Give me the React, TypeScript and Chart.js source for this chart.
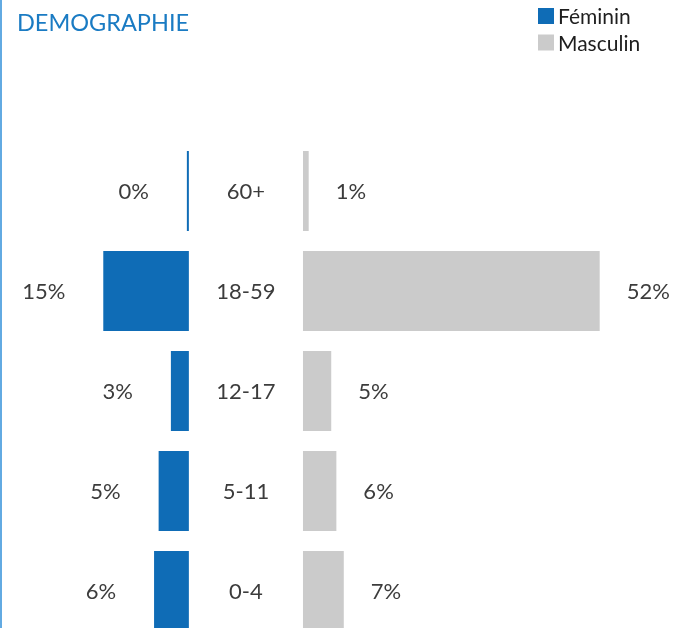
import React, { useEffect, useRef } from "react";
import { Chart, registerables } from "chart.js";

Chart.register(...registerables);

// ---- data ----
const AGE_GROUPS = ["60+", "18-59", "12-17", "5-11", "0-4"];
const FEMALE = [0.35, 15, 3.15, 5.3, 6.1];
const MALE = [1, 52, 4.95, 5.85, 7.15];
const SERIES = ["Féminin", "Masculin"];
const TITLE = "DEMOGRAPHIE";

// ---- style ----
const COLORS = ["#0F6CB6", "#CBCBCB"];
const HALF_GAP = 10; // units of % left empty on each side of the centre for age labels
const FONT = "Lato, 'Noto Sans', sans-serif";

const overlayPlugin = {
  id: "overlay",
  afterDatasetsDraw(chart: any) {
    const { ctx, scales } = chart;
    const x = scales.x;
    const y = scales.y;
    ctx.save();
    ctx.font = `22px ${FONT}`;
    ctx.fillStyle = "#3C3C3C";
    ctx.textBaseline = "middle";
    AGE_GROUPS.forEach((g, i) => {
      const cy = y.getPixelForValue(i) + 1;
      ctx.textAlign = "center";
      ctx.fillText(g, x.getPixelForValue(0), cy);
      ctx.textAlign = "right";
      ctx.fillText(
        Math.round(FEMALE[i]) + "%",
        x.getPixelForValue(-HALF_GAP - FEMALE[i]) - 38,
        cy
      );
      ctx.textAlign = "left";
      ctx.fillText(
        Math.round(MALE[i]) + "%",
        x.getPixelForValue(HALF_GAP + MALE[i]) + 27,
        cy
      );
    });
    ctx.restore();
  },
  afterDraw(chart: any) {
    const { ctx } = chart;
    ctx.save();
    // left accent line
    ctx.fillStyle = "#62AAE2";
    ctx.fillRect(0, 0, 2, chart.height);
    // title
    ctx.font = `23.5px ${FONT}`;
    ctx.fillStyle = "#1A7BC3";
    ctx.textAlign = "left";
    ctx.textBaseline = "alphabetic";
    ctx.fillText(TITLE, 17, 31);
    // legend
    ctx.font = `21px ${FONT}`;
    SERIES.forEach((s, i) => {
      const top = 8 + i * 26.5;
      ctx.fillStyle = COLORS[i];
      ctx.fillRect(538, top, 16, 16);
      ctx.fillStyle = "#1E1E1E";
      ctx.fillText(s, 558, top + 16);
    });
    ctx.restore();
  },
};

export default function App() {
  const ref = useRef<HTMLCanvasElement | null>(null);

  useEffect(() => {
    if (!ref.current) return;
    const chart = new Chart(ref.current, {
      type: "bar",
      data: {
        labels: AGE_GROUPS,
        datasets: [
          {
            label: SERIES[0],
            data: FEMALE.map((v) => [-HALF_GAP - v, -HALF_GAP]) as any,
            backgroundColor: COLORS[0],
            borderWidth: 0,
            grouped: false,
            barPercentage: 0.8,
            categoryPercentage: 1,
          },
          {
            label: SERIES[1],
            data: MALE.map((v) => [HALF_GAP, HALF_GAP + v]) as any,
            backgroundColor: COLORS[1],
            borderWidth: 0,
            grouped: false,
            barPercentage: 0.8,
            categoryPercentage: 1,
          },
        ],
      },
      options: {
        indexAxis: "y",
        responsive: false,
        animation: false,
        layout: { padding: { top: 141, left: 0, right: 0, bottom: 0 } },
        plugins: {
          legend: { display: false },
          title: { display: false },
          tooltip: { enabled: false },
        },
        scales: {
          x: { type: "linear", min: -43.1, max: 77.3, display: false },
          y: { type: "category", display: false, offset: true },
        },
      },
      plugins: [overlayPlugin],
    });
    return () => chart.destroy();
  }, []);

  return (
    <div
      style={{
        position: "absolute",
        left: 0,
        top: 0,
        width: 687,
        height: 628,
        overflow: "hidden",
        background: "#fff",
      }}
    >
      <canvas
        ref={ref}
        width={687}
        height={641}
        style={{ display: "block", width: 687, height: 641 }}
      />
    </div>
  );
}
